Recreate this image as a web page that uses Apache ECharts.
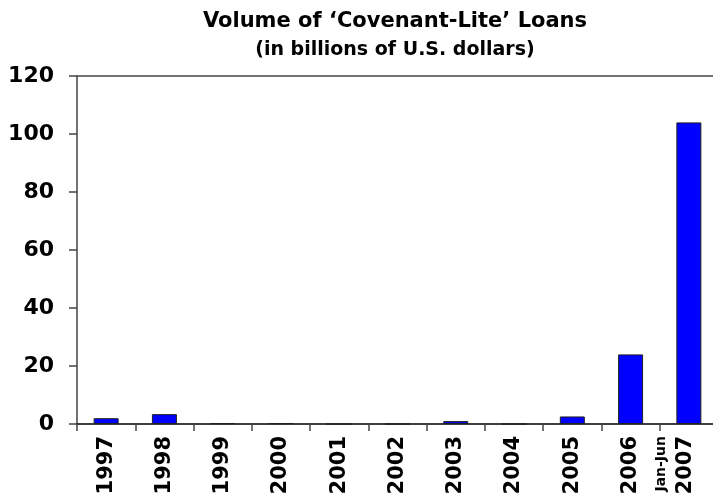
<!DOCTYPE html>
<html><head><meta charset="utf-8">
<script src="https://cdn.jsdelivr.net/npm/echarts@6/dist/echarts.min.js"></script>
<style>html,body{margin:0;padding:0;background:#fff}#c{width:713px;height:504px}</style>
</head><body><div id="c"></div>
<script>
var categories = ['1997','1998','1999','2000','2001','2002','2003','2004','2005','2006','2007'];
var volumes = [2.0, 3.4, 0.3, 0.3, 0, 0, 1.0, 0, 2.6, 24.0, 104.0];
var yTicks = [0, 20, 40, 60, 80, 100, 120];
var titleText = 'Volume of \u2018Covenant-Lite\u2019 Loans';
var subtitleText = '(in billions of U.S. dollars)';
var partialNote = 'Jan-Jun';

var FONT = 'DejaVu Sans';
var chart = echarts.init(document.getElementById('c'), null, {renderer: 'canvas'});
chart.setOption({
  animation: false,
  backgroundColor: '#fff',
  title: [{
    text: titleText, left: 390, top: 6, textAlign: 'center',
    textStyle: {fontFamily: FONT, fontWeight: 'bold', fontSize: 21, color: '#000'}
  }, {
    text: subtitleText, left: 390, top: 36, textAlign: 'center',
    textStyle: {fontFamily: FONT, fontWeight: 'bold', fontSize: 19, color: '#000'}
  }],
  grid: {left: 77, width: 641, top: 76, bottom: 80, containLabel: false, outerBoundsMode: 'none'},
  xAxis: [{
    type: 'category', data: categories,
    axisLine: {lineStyle: {color: '#000', width: 1.5}},
    axisTick: {show: true, length: 7, lineStyle: {color: '#444', width: 1.5}},
    axisLabel: {
      rotate: 90, margin: 12, color: '#000', interval: 0,
      fontFamily: FONT, fontWeight: 'bold', fontSize: 21,
      formatter: function (v) { return v === '2007' ? '{s|' + partialNote + '}\n{b|' + v + '}\n{e| }' : v; },
      rich: {
        s: {fontFamily: FONT, fontWeight: 'bold', fontSize: 14, color: '#000', lineHeight: 20},
        b: {fontFamily: FONT, fontWeight: 'bold', fontSize: 21, color: '#000', lineHeight: 30},
        e: {fontSize: 10, lineHeight: 26}
      }
    }
  }, {
    type: 'category', data: categories, position: 'top',
    axisLine: {lineStyle: {color: '#444', width: 1.5}},
    axisTick: {show: false}, axisLabel: {show: false}
  }],
  yAxis: {
    type: 'value', min: 0, max: 120, interval: 20,
    axisLine: {show: true, lineStyle: {color: '#444', width: 1.5}},
    axisTick: {show: true, length: 8, lineStyle: {color: '#444', width: 1.5}},
    splitLine: {show: false},
    axisLabel: {
      margin: 23, color: '#000', fontFamily: FONT, fontWeight: 'bold', fontSize: 22,
      formatter: function (v) { return yTicks.indexOf(v) >= 0 ? String(v) : ''; }
    }
  },
  series: [{
    type: 'bar', data: volumes, barWidth: 25,
    itemStyle: {color: '#0000FF', borderColor: '#222', borderWidth: 1}
  }]
});
</script></body></html>
